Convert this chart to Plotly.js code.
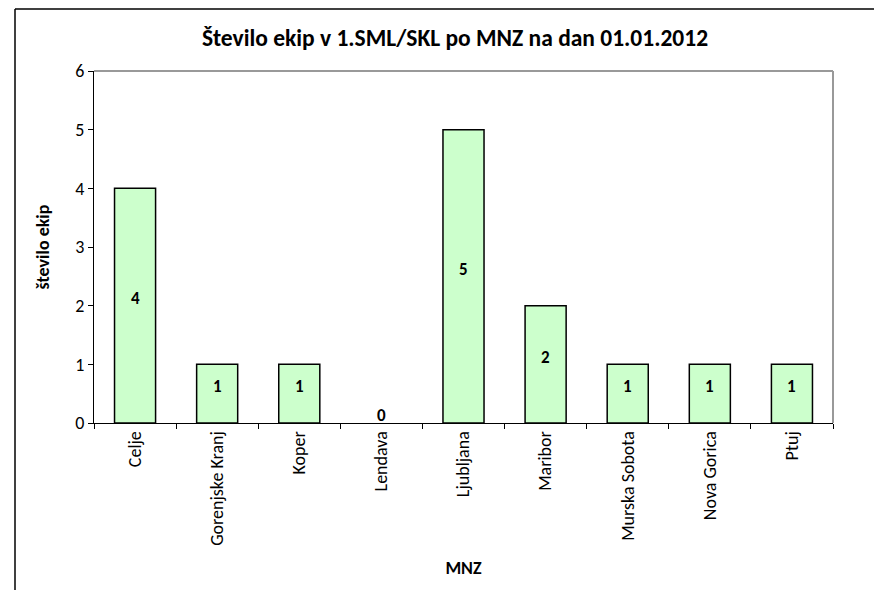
<!DOCTYPE html>
<html>
<head>
<meta charset="utf-8">
<script src="https://cdn.plot.ly/plotly-3.0.1.min.js"></script>
<style>html,body{margin:0;padding:0;background:#fff;}#chart{width:874px;height:590px;}</style>
</head>
<body>
<div id="chart"></div>
<script>
const categories = ["Celje", "Gorenjske Kranj", "Koper", "Lendava", "Ljubljana", "Maribor", "Murska Sobota", "Nova Gorica", "Ptuj"];
const values = [4, 1, 1, 0, 5, 2, 1, 1, 1];
const yTicks = [0, 1, 2, 3, 4, 5, 6];

const FONT = "Carlito, Lato, 'Open Sans', sans-serif";

const trace = {
  type: "bar",
  x: categories,
  y: values,
  marker: {color: "#CCFFCC", line: {color: "#000", width: values.map(v => v === 0 ? 0 : 1.5)}},
  width: 0.5,
  hoverinfo: "none"
};

const labels = categories.map((c, i) => ({
  x: c,
  y: values[i] / 2,
  xref: "x", yref: "y",
  text: "<b>" + values[i] + "</b>",
  showarrow: false,
  yshift: values[i] === 0 ? 8 : 7,
  font: {family: FONT, size: 17, color: "#000"}
}));

const layout = {
  width: 874,
  height: 590,
  margin: {l: 94, r: 41, t: 71, b: 167},
  paper_bgcolor: "#fff",
  plot_bgcolor: "#fff",
  showlegend: false,
  font: {family: FONT, color: "#000"},
  title: {
    text: "<b>Število ekip v 1.SML/SKL po MNZ na dan 01.01.2012</b>",
    font: {family: FONT, size: 23.5, color: "#000"},
    x: (455 - 94) / 739, xref: "paper", xanchor: "center",
    y: 1 - 38/590, yref: "container", yanchor: "middle"
  },
  xaxis: {
    type: "category",
    tickangle: -90,
    tickfont: {family: FONT, size: 18, color: "#000"},
    showline: true, linecolor: "#000", linewidth: 1,
    ticks: "outside", ticklen: 5, tickcolor: "#000", tickson: "boundaries",
    showgrid: false, zeroline: false,
    title: {text: "<b>MNZ</b>", font: {family: FONT, size: 18, color: "#000"}, standoff: 16},
    automargin: false
  },
  yaxis: {
    range: [0, 6],
    tickvals: yTicks,
    ticktext: yTicks.map(String),
    tickfont: {family: FONT, size: 18, color: "#000"},
    showline: true, linecolor: "#000", linewidth: 1,
    ticks: "outside", ticklen: 5, tickcolor: "#000",
    showgrid: false, zeroline: false,
    title: {text: "<b>število ekip</b>", font: {family: FONT, size: 18, color: "#000"}, standoff: 20},
    automargin: false
  },
  annotations: labels,
  shapes: [
    {type: "line", xref: "paper", yref: "paper", x0: 0, x1: 1, y0: 1, y1: 1, line: {color: "#999", width: 2}},
    {type: "line", xref: "paper", yref: "paper", x0: 1, x1: 1, y0: 0, y1: 1, line: {color: "#999", width: 2}},
    {type: "line", xref: "paper", yref: "paper", x0: (15-94)/739, x1: (874-94)/739, y0: (423-9)/352, y1: (423-9)/352, line: {color: "#000", width: 1.5}},
    {type: "line", xref: "paper", yref: "paper", x0: (15-94)/739, x1: (15-94)/739, y0: (423-9)/352, y1: (423-592)/352, line: {color: "#000", width: 1.5}}
  ]
};

Plotly.newPlot("chart", [trace], layout, {displayModeBar: false, staticPlot: true});
</script>
</body>
</html>
